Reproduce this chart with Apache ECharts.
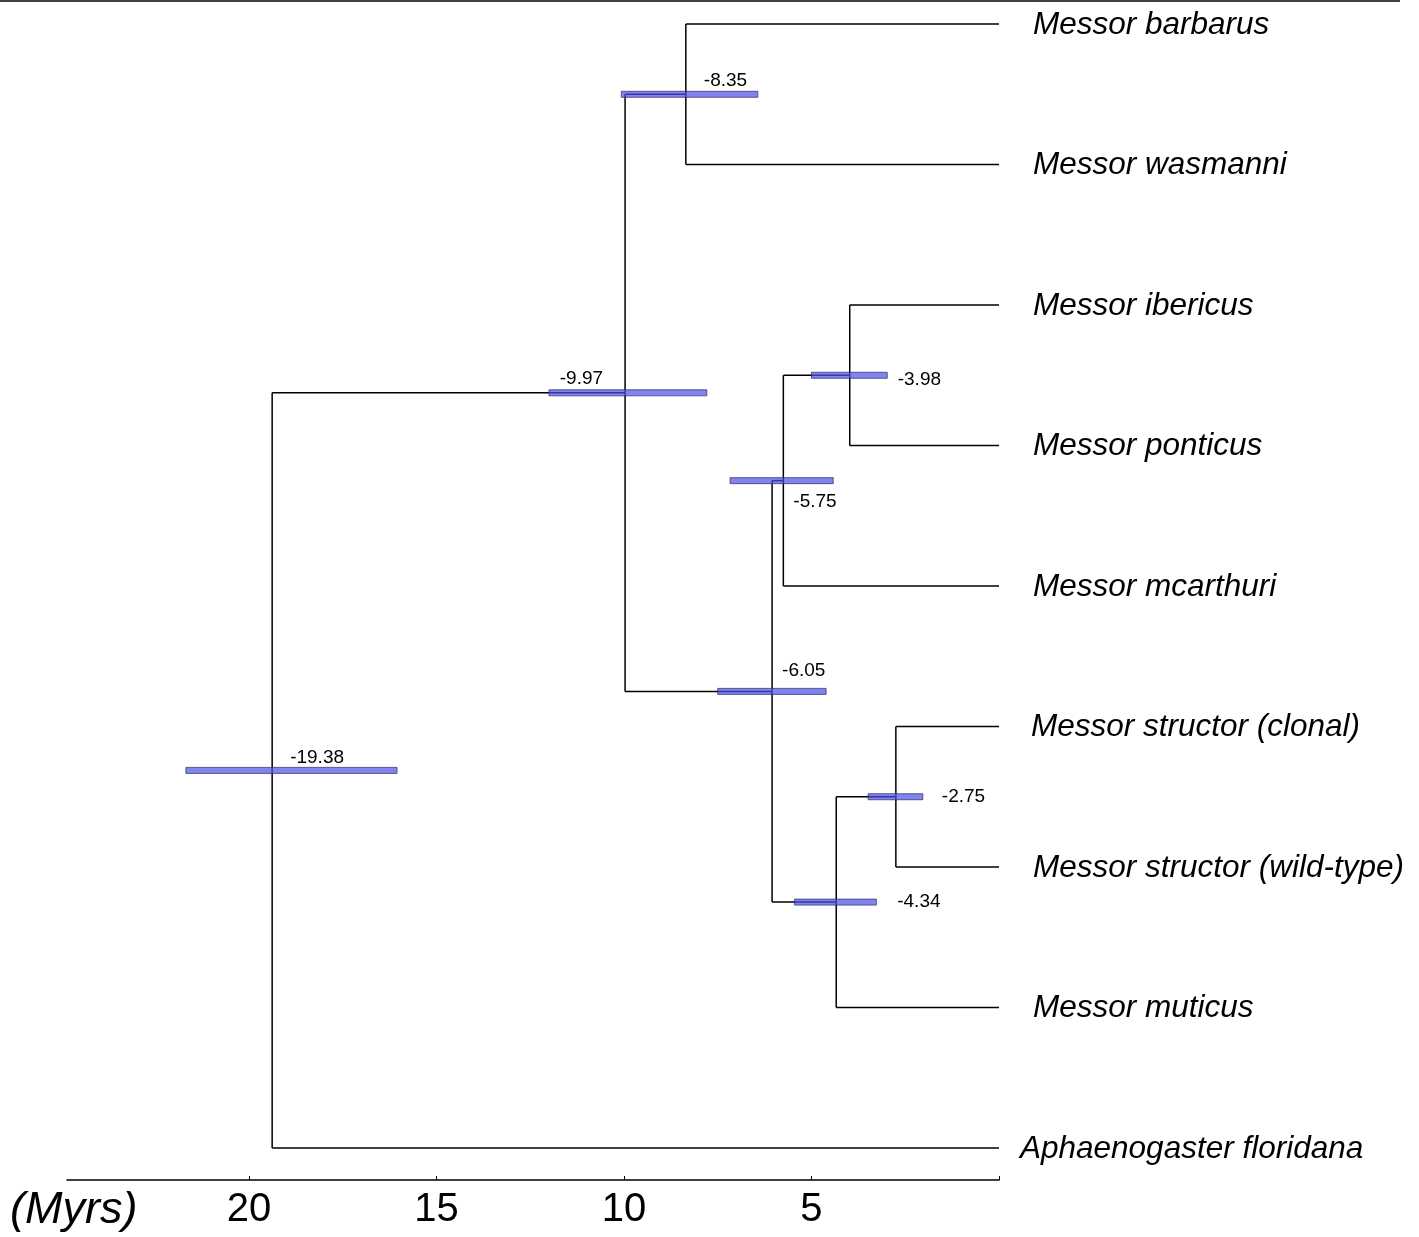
<!DOCTYPE html>
<html>
<head>
<meta charset="utf-8">
<script src="https://cdn.jsdelivr.net/npm/echarts@6/dist/echarts.min.js"></script>
<style>
  html, body { margin: 0; padding: 0; background: #fff; }
  #chart { width: 1419px; height: 1237px; }
</style>
</head>
<body>
<div id="chart"></div>
<script>
// Messor 分歧時間樹 — 節點年齡（Myrs，負值=距今）+ 95% HPD 區間

// ── data ─────────────────────────────────────────────────────────────
const taxa = [
  "Messor barbarus",
  "Messor wasmanni",
  "Messor ibericus",
  "Messor ponticus",
  "Messor mcarthuri",
  "Messor structor (clonal)",
  "Messor structor (wild-type)",
  "Messor muticus",
  "Aphaenogaster floridana",
];
const tipAges = [0, 0, 0, 0, 0, 0, 0, 0, 0];

// internal nodes (index 0 = root)
const nodeAges = [-19.38, -9.97, -8.35, -6.05, -5.75, -3.98, -4.34, -2.75];
const hpdLow   = [-21.68, -12.0, -10.07, -7.50, -7.17, -5.00, -5.45, -3.49];
const hpdHigh  = [-16.05, -7.79, -6.43, -4.61, -4.42, -2.98, -3.27, -2.03];
// children: "n#" = internal node, "t#" = tip
const nodeChildren = [
  ["n1", "t8"],
  ["n2", "n3"],
  ["t0", "t1"],
  ["n4", "n6"],
  ["n5", "t4"],
  ["t2", "t3"],
  ["n7", "t7"],
  ["t5", "t6"],
];

const axisTicks  = [-20, -15, -10, -5, 0];
const axisLabels = [-20, -15, -10, -5];

// ── styles / label placement (px offsets from node) ──────────────────
const FONT = "'Liberation Sans', Arial, Helvetica, sans-serif";
const LABEL_OFF = [
  { dx: 18,  dy: -13, align: "left" },
  { dx: -22, dy: -14, align: "right" },
  { dx: 18,  dy: -14, align: "left" },
  { dx: 10,  dy: -21, align: "left" },
  { dx: 10,  dy: 21,  align: "left" },
  { dx: 48,  dy: 4,   align: "left" },
  { dx: 61,  dy: 0,   align: "left" },
  { dx: 46,  dy: 0,   align: "left" },
];
const TIP_DX = [34, 34, 34, 34, 34, 32, 34, 34, 21];
const BAR_FILL = "rgba(79,79,233,0.7)";
const BAR_STROKE = "rgba(50,50,110,0.75)";
const LINE_W = 1.5;

// ── layout: node y = mean of children y ──────────────────────────────
const nodeY = [];
function ref(c) {
  const i = +c.slice(1);
  if (c[0] === "t") return { age: tipAges[i], y: i };
  return { age: nodeAges[i], y: getY(i) };
}
function getY(i) {
  if (nodeY[i] != null) return nodeY[i];
  const ys = nodeChildren[i].map(c => ref(c).y);
  nodeY[i] = ys.reduce((a, b) => a + b, 0) / ys.length;
  return nodeY[i];
}
nodeAges.forEach((_, i) => getY(i));

const chart = echarts.init(document.getElementById("chart"), null, { renderer: "canvas" });

const branchItem = (params, api) => {
  const i = params.dataIndex;
  const kids = nodeChildren[i].map(ref);
  const ys = kids.map(k => k.y);
  const top = api.coord([nodeAges[i], Math.min(...ys)]);
  const bot = api.coord([nodeAges[i], Math.max(...ys)]);
  const st = { stroke: "#000", lineWidth: LINE_W };
  const els = [{ type: "line", shape: { x1: top[0], y1: top[1], x2: bot[0], y2: bot[1] }, style: st }];
  kids.forEach(k => {
    const a = api.coord([nodeAges[i], k.y]);
    const b = api.coord([k.age, k.y]);
    els.push({ type: "line", shape: { x1: a[0], y1: a[1], x2: b[0], y2: b[1] }, style: st });
  });
  return { type: "group", children: els };
};

const barItem = (params, api) => {
  const i = params.dataIndex;
  const y = nodeY[i];
  const a = api.coord([hpdLow[i], y]);
  const b = api.coord([hpdHigh[i], y]);
  const p = api.coord([nodeAges[i], y]);
  const h = 6;
  const o = LABEL_OFF[i];
  return {
    type: "group",
    children: [
      { type: "rect", shape: { x: a[0], y: a[1] - h / 2, width: b[0] - a[0], height: h },
        style: { fill: BAR_FILL, stroke: BAR_STROKE, lineWidth: 1 } },
      { type: "text", style: {
          x: p[0] + o.dx, y: p[1] + o.dy, text: nodeAges[i].toFixed(2),
          fill: "#000", font: `19px ${FONT}`, align: o.align, verticalAlign: "middle" } },
    ],
  };
};

const tipItem = (params, api) => {
  const i = params.dataIndex;
  const p = api.coord([tipAges[i], i]);
  return { type: "text", style: {
    x: p[0] + TIP_DX[i], y: p[1] + 1, text: taxa[i], fill: "#000",
    font: `italic 31.5px ${FONT}`, align: "left", verticalAlign: "middle" } };
};

chart.setOption({
  backgroundColor: "#fff",
  animation: false,
  grid: { left: 67, right: 420, top: 10, bottom: 57, containLabel: false },
  xAxis: {
    type: "value", min: -24.85, max: 0, position: "bottom",
    axisLine: { show: true, onZero: false, lineStyle: { color: "#000", width: LINE_W } },
    axisTick: { show: true, inside: true, length: 4, customValues: axisTicks, lineStyle: { color: "#000" } },
    axisLabel: {
      show: true, customValues: axisLabels, formatter: v => String(Math.abs(v)),
      color: "#000", fontSize: 40, fontFamily: FONT, margin: 10,
    },
    splitLine: { show: false },
  },
  yAxis: { type: "value", inverse: true, min: -0.1, max: 8.228, show: false },
  graphic: [
    { type: "line", shape: { x1: 0, y1: 1, x2: 1400, y2: 1 }, style: { stroke: "#000", lineWidth: 1.5 } },
    { type: "text", left: 10, top: 1188, style: { text: "(Myrs)", fill: "#000", font: `italic 45px ${FONT}` } },
  ],
  series: [
    { type: "custom", coordinateSystem: "cartesian2d", renderItem: branchItem, z: 2,
      data: nodeAges.map((a, i) => [a, nodeY[i]]), silent: true, clip: false },
    { type: "custom", coordinateSystem: "cartesian2d", renderItem: barItem, z: 3,
      data: nodeAges.map((a, i) => [a, nodeY[i]]), silent: true, clip: false },
    { type: "custom", coordinateSystem: "cartesian2d", renderItem: tipItem, z: 3,
      data: taxa.map((_, i) => [tipAges[i], i]), silent: true, clip: false },
  ],
});
</script>
</body>
</html>
